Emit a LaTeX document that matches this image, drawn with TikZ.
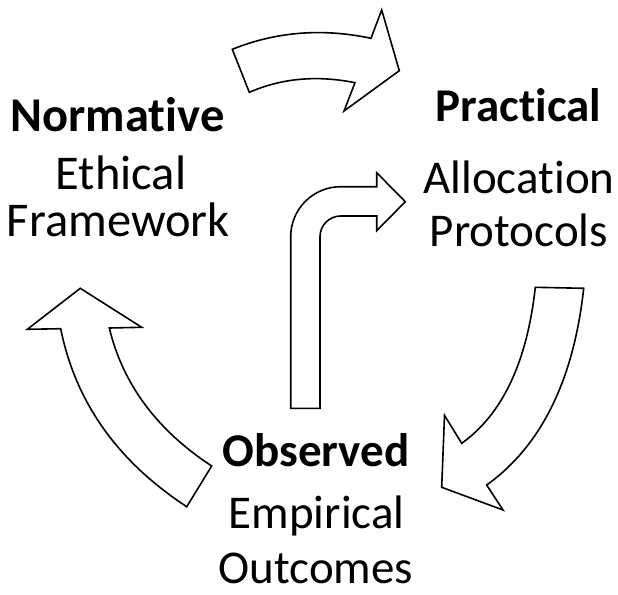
\documentclass[tikz,border=0pt]{standalone}
\usepackage{fontspec}
\setmainfont{Carlito}[Ligatures=NoCommon]
\begin{document}
\begin{tikzpicture}[x=1pt,y=-1pt,
  blockarrow/.style={draw=black, fill=white, line width=1.6pt, line join=miter},
  headtext/.style={font=\fontsize{47}{50}\selectfont\bfseries, anchor=base, inner sep=0pt},
  bodytext/.style={font=\fontsize{47}{50}\selectfont, anchor=base, inner sep=0pt},
  bighead/.style={font=\fontsize{48.5}{52}\selectfont\bfseries, anchor=base, inner sep=0pt},
  bigbody/.style={font=\fontsize{48.5}{52}\selectfont, anchor=base, inner sep=0pt}]
\useasboundingbox (0,0) rectangle (618,594);
\fill[white] (0,0) rectangle (618,594);

% curved arrow across the top: normative -> practical
\draw[blockarrow] (249.3,92.3) -- (232.3,49.3)
  .. controls (276.3,31.6) and (322.6,28.0) .. (371,38.3)
  -- (381.7,10) -- (399.3,70.7) -- (344,111) -- (355,82.7)
  .. controls (316.9,75.0) and (281.7,78.2) .. cycle;

% curved arrow down the right side: practical -> observed
\draw[blockarrow] (535.3,287.3) -- (583.7,288.3)
  .. controls (573.6,380.3) and (541.2,445.9) .. (486.7,485)
  -- (503,510) -- (441.7,487.3) -- (444.5,415.3) -- (461.7,443.3)
  .. controls (502.5,414.1) and (527,362.1) .. cycle;

% curved arrow up the left side: observed -> normative
\draw[blockarrow] (186.7,506.7) -- (211.7,466)
  .. controls (156.9,430.1) and (122.8,384.1) .. (109.3,328)
  -- (141.7,327.3) -- (80.3,288.3) -- (27.3,329.3) -- (60.7,328.7)
  .. controls (75.4,402) and (117.4,461.3) .. cycle;

% bent feedback arrow: observed -> practical
\draw[blockarrow] (290.7,408.3) -- (290.7,236.7)
  .. controls (290.7,209.1) and (313.1,186.7) .. (340.7,186.7)
  -- (376.7,186.7) -- (376.7,172.7) -- (405.3,201.7) -- (376.7,230.7)
  -- (376.7,216) -- (340.7,216)
  .. controls (329.3,216) and (320,225.3) .. (320,236.7)
  -- (320,408.3) -- cycle;

% labels
\node[bighead] (normH) at (117.5,131.7) {Normative};
\node[bigbody] (normA) at (121,189) {Ethical};
\node[bigbody] (normB) at (118.3,236.7) {Framework};

\node[headtext] (pracH) at (518.7,121.7) {Practical};
\node[bodytext] (pracA) at (519,193.3) {Allocation};
\node[bodytext] (pracB) at (519,246.7) {Protocols};

\node[headtext] (obsH) at (316,466.7) {Observed};
\node[bodytext] (obsA) at (316.7,528.3) {Empirical};
\node[bodytext] (obsB) at (316,583.3) {Outcomes};
\end{tikzpicture}
\end{document}
